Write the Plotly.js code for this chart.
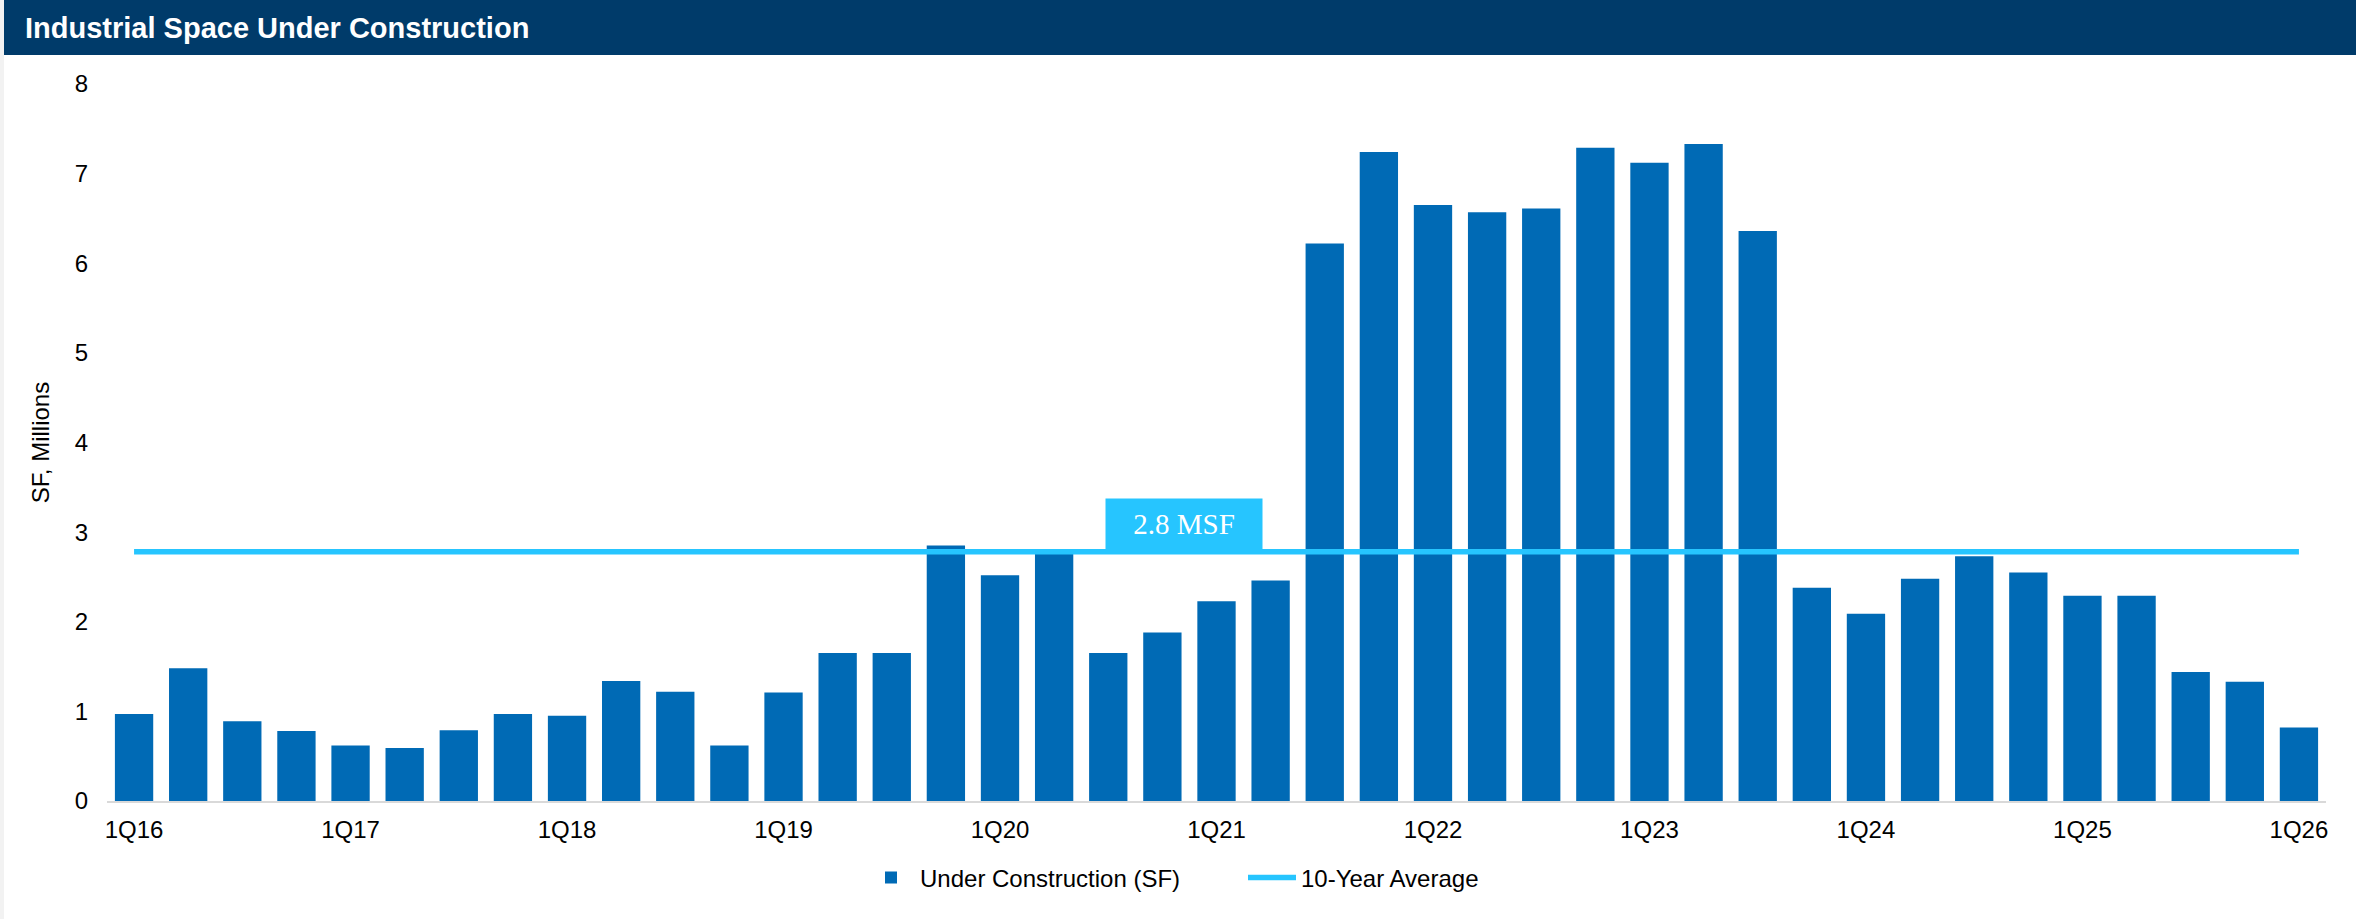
<!DOCTYPE html>
<html>
<head>
<meta charset="utf-8">
<script src="https://cdn.plot.ly/plotly-3.0.1.min.js"></script>
<style>
  html, body { margin: 0; padding: 0; background: #ffffff; }
  #chart { width: 2356px; height: 919px; }
</style>
</head>
<body>
<div id="chart"></div>
<script>
// ---- Data ----
const quarters = [
  '1Q16','2Q16','3Q16','4Q16',
  '1Q17','2Q17','3Q17','4Q17',
  '1Q18','2Q18','3Q18','4Q18',
  '1Q19','2Q19','3Q19','4Q19',
  '1Q20','2Q20','3Q20','4Q20',
  '1Q21','2Q21','3Q21','4Q21',
  '1Q22','2Q22','3Q22','4Q22',
  '1Q23','2Q23','3Q23','4Q23',
  '1Q24','2Q24','3Q24','4Q24',
  '1Q25','2Q25','3Q25','4Q25',
  '1Q26'
];
const underConstruction = [
  0.97, 1.48, 0.89, 0.78,
  0.62, 0.59, 0.79, 0.97,
  0.95, 1.34, 1.22, 0.62,
  1.21, 1.65, 1.65, 2.85,
  2.52, 2.76, 1.65, 1.88,
  2.23, 2.46, 6.22, 7.24,
  6.65, 6.57, 6.61, 7.29,
  7.12, 7.33, 6.36, 2.38,
  2.09, 2.48, 2.73, 2.55,
  2.29, 2.29, 1.44, 1.33,
  0.82
];
const tenYearAverage = [
  2.78, 2.78, 2.78, 2.78,
  2.78, 2.78, 2.78, 2.78,
  2.78, 2.78, 2.78, 2.78,
  2.78, 2.78, 2.78, 2.78,
  2.78, 2.78, 2.78, 2.78,
  2.78, 2.78, 2.78, 2.78,
  2.78, 2.78, 2.78, 2.78,
  2.78, 2.78, 2.78, 2.78,
  2.78, 2.78, 2.78, 2.78,
  2.78, 2.78, 2.78, 2.78,
  2.78
];
const tickLabels = ['1Q16','1Q17','1Q18','1Q19','1Q20','1Q21','1Q22','1Q23','1Q24','1Q25','1Q26'];
const yTicks = [0, 1, 2, 3, 4, 5, 6, 7, 8];
const chartTitle = 'Industrial Space Under Construction';
const averageLabel = '2.8 MSF';

// ---- Geometry ----
const W = 2356, H = 919;
const M = { l: 107, r: 30, t: 84, b: 118 };
const PW = W - M.l - M.r, PH = H - M.t - M.b;
const px = x => (x - M.l) / PW;          // pixel x -> paper x
const py = y => (H - M.b - y) / PH;      // pixel y -> paper y

const FONT = '"Liberation Sans", Arial, sans-serif';

const traces = [
  {
    type: 'bar',
    name: 'Under Construction (SF)',
    x: quarters,
    y: underConstruction,
    marker: { color: '#006AB5', line: { width: 0 } },
    hoverinfo: 'x+y'
  },
  {
    type: 'scatter',
    mode: 'lines',
    name: '10-Year Average',
    x: quarters,
    y: tenYearAverage,
    line: { color: '#26C5FF', width: 5.5 },
    hoverinfo: 'y'
  }
];

const layout = {
  width: W,
  height: H,
  margin: M,
  paper_bgcolor: '#ffffff',
  plot_bgcolor: '#ffffff',
  font: { family: FONT, color: '#000000', size: 24 },
  showlegend: true,
  bargap: 0.292,
  title: {
    text: '<b>' + chartTitle + '</b>',
    font: { family: FONT, size: 29, color: '#ffffff' },
    xref: 'container', yref: 'container',
    x: 25 / W, xanchor: 'left',
    y: 1 - 28 / H, yanchor: 'middle',
    pad: { t: 0, b: 0, l: 0, r: 0 }
  },
  xaxis: {
    type: 'category',
    range: [-0.5, 40.5],
    tickmode: 'array',
    tickvals: tickLabels,
    ticktext: tickLabels,
    tickfont: { family: FONT, size: 24, color: '#000000' },
    ticks: '',
    showgrid: false,
    zeroline: false,
    showline: true,
    linecolor: '#D9D9D9',
    linewidth: 2,
    ticklabelstandoff: 6,
    fixedrange: true
  },
  yaxis: {
    range: [0, 8],
    tickmode: 'array',
    tickvals: yTicks,
    ticktext: yTicks.map(String),
    tickfont: { family: FONT, size: 24, color: '#000000' },
    ticks: '',
    showgrid: false,
    zeroline: false,
    showline: false,
    ticklabelstandoff: 18,
    title: {
      text: 'SF, Millions',
      font: { family: FONT, size: 24, color: '#000000' },
      standoff: 18
    },
    automargin: false,
    fixedrange: true
  },
  legend: {
    orientation: 'h',
    x: px(862), xanchor: 'left',
    y: py(878), yanchor: 'middle',
    font: { family: FONT, size: 24, color: '#000000' },
    itemwidth: 48,
    entrywidth: 318,
    entrywidthmode: 'pixels',
    tracegroupgap: 0,
    bgcolor: 'rgba(0,0,0,0)'
  },
  shapes: [
    // title banner
    {
      type: 'rect', xref: 'paper', yref: 'paper', layer: 'below',
      x0: px(4), x1: px(W), y0: py(55), y1: py(0),
      fillcolor: '#003B6A', line: { width: 0 }
    },
    // light grey strip at left edge
    {
      type: 'rect', xref: 'paper', yref: 'paper', layer: 'below',
      x0: px(0), x1: px(4), y0: py(H), y1: py(0),
      fillcolor: '#F2F2F2', line: { width: 0 }
    }
  ],
  annotations: [
    {
      text: averageLabel,
      xref: 'paper', yref: 'y',
      x: px(1184), xanchor: 'center',
      y: tenYearAverage[0], yanchor: 'bottom',
      yshift: 2,
      showarrow: false,
      bgcolor: '#26C5FF',
      borderpad: 0,
      width: 156, height: 50,
      font: { family: '"Liberation Serif", "Times New Roman", serif', size: 29, color: '#ffffff' }
    }
  ]
};

Plotly.newPlot('chart', traces, layout, { displayModeBar: false, responsive: false, staticPlot: false });
</script>
</body>
</html>
